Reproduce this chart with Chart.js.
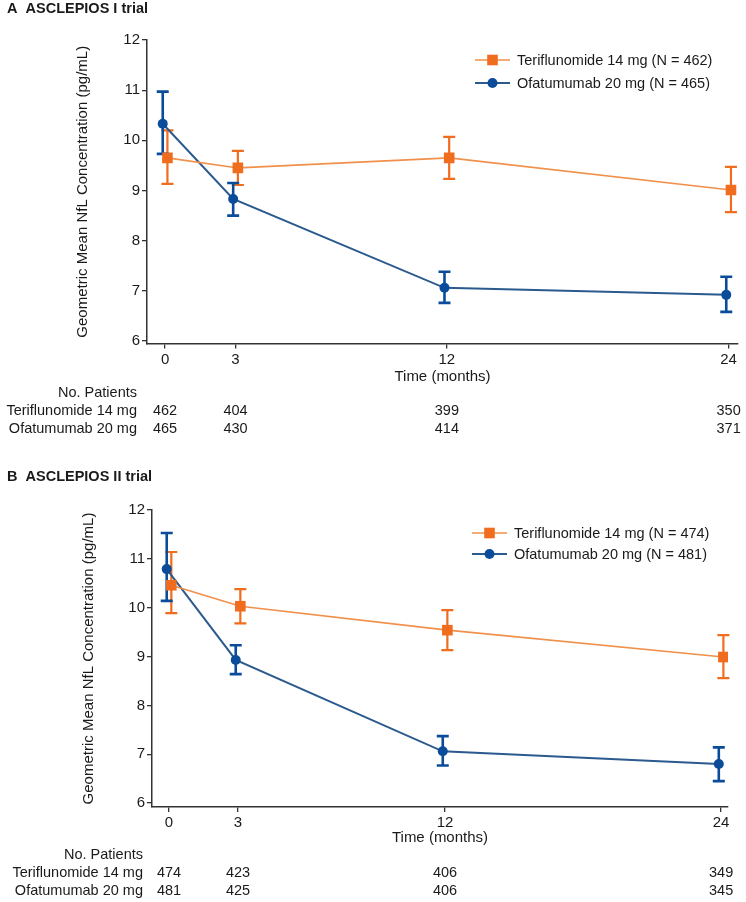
<!DOCTYPE html>
<html>
<head>
<meta charset="utf-8">
<script src="https://cdn.jsdelivr.net/npm/chart.js@4.4.1/dist/chart.umd.min.js"></script>
<style>
	html, body { margin: 0; padding: 0; background: #fff; }
	.panel { position: absolute; left: 0; width: 746px; height: 451px; }
</style>
</head>
<body>
<div class="panel" style="top:0"><canvas id="chartA" width="746" height="451"></canvas></div>
<div class="panel" style="top:451px"><canvas id="chartB" width="746" height="451"></canvas></div>
<script>
// ── Data ──────────────────────────────────────────────────────────────────────

const months = [0, 3, 12, 24];
const xTicks = [0, 3, 12, 24];
const yTicks = [6, 7, 8, 9, 10, 11, 12];
const rowLabels = ['Teriflunomide 14 mg', 'Ofatumumab 20 mg'];

// ASCLEPIOS I
const teriA = [9.65, 9.45, 9.65, 9.01];
const teriALo = [9.13, 9.11, 9.23, 8.57];
const teriAHi = [10.2, 9.79, 10.07, 9.47];
const ofaA = [10.33, 8.83, 7.06, 6.92];
const ofaALo = [9.73, 8.5, 6.76, 6.58];
const ofaAHi = [10.97, 9.15, 7.38, 7.28];
const teriAN = [462, 404, 399, 350];
const ofaAN = [465, 430, 414, 371];

// ASCLEPIOS II
const teriB = [10.46, 10.03, 9.54, 8.99];
const teriBLo = [9.89, 9.68, 9.13, 8.56];
const teriBHi = [11.14, 10.38, 9.95, 9.44];
const ofaB = [10.79, 8.93, 7.06, 6.8];
const ofaBLo = [10.14, 8.64, 6.77, 6.45];
const ofaBHi = [11.53, 9.23, 7.37, 7.14];
const teriBN = [474, 423, 406, 349];
const ofaBN = [481, 425, 406, 345];

// ── Style ─────────────────────────────────────────────────────────────────────

const FONT = "'Liberation Sans', Arial, Helvetica, sans-serif";
const ORANGE = '#F06C1E';
const ORANGE_LINE = '#F0904A';
const BLUE = '#0B4C9A';
const BLUE_LINE = '#2B5A8E';
const AXIS = '#333333';
const TEXT = '#1a1a1a';
const DODGE = 0.1; // horizontal offset of the two arms, in months
const CAP = 6;

// ── Plugin: error bars, title, legend, patients table ─────────────────────────

const panelPlugin = {
	id: 'panel',
	beforeDatasetsDraw(chart) {
		const { ctx, scales: { x, y } } = chart;
		// later datasets drawn last so blue sits on top of orange
		chart.data.datasets.forEach((ds) => {
			ctx.save();
			ctx.strokeStyle = ds.pointBackgroundColor;
			ctx.lineWidth = ds.errWidth;
			ds.data.forEach((p, j) => {
				const px = x.getPixelForValue(p.x);
				const top = y.getPixelForValue(ds.errHi[j]);
				const bot = y.getPixelForValue(ds.errLo[j]);
				ctx.beginPath();
				ctx.moveTo(px, top);
				ctx.lineTo(px, bot);
				ctx.moveTo(px - CAP, top);
				ctx.lineTo(px + CAP, top);
				ctx.moveTo(px - CAP, bot);
				ctx.lineTo(px + CAP, bot);
				ctx.stroke();
			});
			ctx.restore();
		});
	},
	afterDraw(chart, args, opts) {
		const { ctx, scales: { x } } = chart;
		ctx.save();

		// Panel title
		ctx.fillStyle = TEXT;
		ctx.font = `bold 14.5px ${FONT}`;
		ctx.textBaseline = 'middle';
		ctx.textAlign = 'left';
		ctx.fillText(opts.title, 7, opts.titleY);

		// Legend: line with marker through it
		chart.data.datasets.forEach((ds, i) => {
			const ly = opts.legendY + i * opts.legendGap;
			const lx = opts.legendX;
			ctx.strokeStyle = ds.borderColor;
			ctx.lineWidth = ds.borderWidth;
			ctx.beginPath();
			ctx.moveTo(lx, ly);
			ctx.lineTo(lx + 35, ly);
			ctx.stroke();
			ctx.fillStyle = ds.pointBackgroundColor;
			ctx.strokeStyle = ds.pointBackgroundColor;
			Chart.helpers.drawPoint(ctx, {
				pointStyle: ds.pointStyle,
				radius: ds.pointRadius,
				borderWidth: 0,
				rotation: 0,
			}, lx + 17.5, ly);
			ctx.fillStyle = TEXT;
			ctx.font = `14.5px ${FONT}`;
			ctx.textAlign = 'left';
			ctx.fillText(ds.label, lx + 42, ly + 1);
		});

		// Number of patients table
		ctx.font = `14.5px ${FONT}`;
		ctx.fillStyle = TEXT;
		ctx.textAlign = 'right';
		ctx.fillText('No. Patients', opts.tableX, opts.tableY);
		opts.rows.forEach((row, r) => {
			const ty = opts.tableY + (r + 1) * 18;
			ctx.textAlign = 'right';
			ctx.fillText(rowLabels[r], opts.tableX, ty);
			ctx.textAlign = 'center';
			row.forEach((n, j) => {
				ctx.fillText(String(n), x.getPixelForValue(months[j]), ty);
			});
		});
		ctx.restore();
	},
};

// ── Chart factory ─────────────────────────────────────────────────────────────

function makeSeries(label, vals, lo, hi, dodge, color, lineColor, style, radius, lineW, errW) {
	return {
		label,
		data: months.map((m, i) => ({ x: m + dodge, y: vals[i] })),
		errLo: lo,
		errHi: hi,
		errWidth: errW,
		borderColor: lineColor,
		borderWidth: lineW,
		pointStyle: style,
		pointRadius: radius,
		pointHoverRadius: radius,
		pointBackgroundColor: color,
		pointBorderColor: color,
		pointBorderWidth: 0,
		tension: 0,
		fill: false,
	};
}

function makePanel(id, cfg) {
	const tickFont = { family: FONT, size: 15 };
	return new Chart(document.getElementById(id), {
		type: 'line',
		data: {
			datasets: [
				makeSeries(cfg.teriLabel, cfg.teri, cfg.teriLo, cfg.teriHi, DODGE,
					ORANGE, ORANGE_LINE, 'rect', 7.5, 1.6, 2.2),
				makeSeries(cfg.ofaLabel, cfg.ofa, cfg.ofaLo, cfg.ofaHi, -DODGE,
					BLUE, BLUE_LINE, 'circle', 5, 2, 2.6),
			],
		},
		options: {
			responsive: false,
			animation: false,
			events: [],
			layout: { padding: cfg.padding },
			plugins: {
				legend: { display: false },
				tooltip: { enabled: false },
				panel: cfg.panel,
			},
			scales: {
				x: {
					type: 'linear',
					min: cfg.xMin,
					max: cfg.xMax,
					afterBuildTicks: (s) => { s.ticks = xTicks.map((v) => ({ value: v })); },
					afterFit: (s) => { s.height = cfg.xHeight; },
					grid: { drawOnChartArea: false, drawTicks: true, tickLength: 5, color: AXIS, lineWidth: 1.3 },
					border: { color: AXIS, width: 1.5 },
					ticks: { color: TEXT, font: tickFont, padding: 2, maxRotation: 0 },
					title: { display: true, text: 'Time (months)', color: TEXT, font: tickFont, padding: 0 },
				},
				y: {
					min: cfg.yMin,
					max: 12,
					afterBuildTicks: (s) => { s.ticks = yTicks.map((v) => ({ value: v })); },
					afterFit: (s) => { s.width = cfg.yWidth; },
					grid: { drawOnChartArea: false, drawTicks: true, tickLength: 5, color: AXIS, lineWidth: 1.3 },
					border: { color: AXIS, width: 1.5 },
					ticks: { color: TEXT, font: tickFont, padding: 2 },
					title: {
						display: true,
						text: 'Geometric Mean NfL Concentration (pg/mL)',
						color: TEXT,
						font: tickFont,
						padding: 0,
					},
				},
			},
		},
		plugins: [panelPlugin],
	});
}

// ── Bootstrap ─────────────────────────────────────────────────────────────────

makePanel('chartA', {
	teriLabel: 'Teriflunomide 14 mg (N = 462)',
	ofaLabel: 'Ofatumumab 20 mg (N = 465)',
	teri: teriA, teriLo: teriALo, teriHi: teriAHi,
	ofa: ofaA, ofaLo: ofaALo, ofaHi: ofaAHi,
	xMin: -0.77, xMax: 24.4, yMin: 5.95,
	padding: { top: 40, left: 74, right: 8, bottom: 65 },
	yWidth: 73, xHeight: 42.5,
	panel: {
		title: 'A  ASCLEPIOS I trial', titleY: 9,
		legendX: 475, legendY: 60, legendGap: 23,
		tableX: 137, tableY: 393,
		rows: [teriAN, ofaAN],
	},
});

makePanel('chartB', {
	teriLabel: 'Teriflunomide 14 mg (N = 474)',
	ofaLabel: 'Ofatumumab 20 mg (N = 481)',
	teri: teriB, teriLo: teriBLo, teriHi: teriBHi,
	ofa: ofaB, ofaLo: ofaBLo, ofaHi: ofaBHi,
	xMin: -0.74, xMax: 24.3, yMin: 5.92,
	padding: { top: 59, left: 80, right: 18, bottom: 55 },
	yWidth: 72, xHeight: 40,
	panel: {
		title: 'B  ASCLEPIOS II trial', titleY: 26,
		legendX: 472, legendY: 82, legendGap: 21,
		tableX: 143, tableY: 404,
		rows: [teriBN, ofaBN],
	},
});
</script>
</body>
</html>
